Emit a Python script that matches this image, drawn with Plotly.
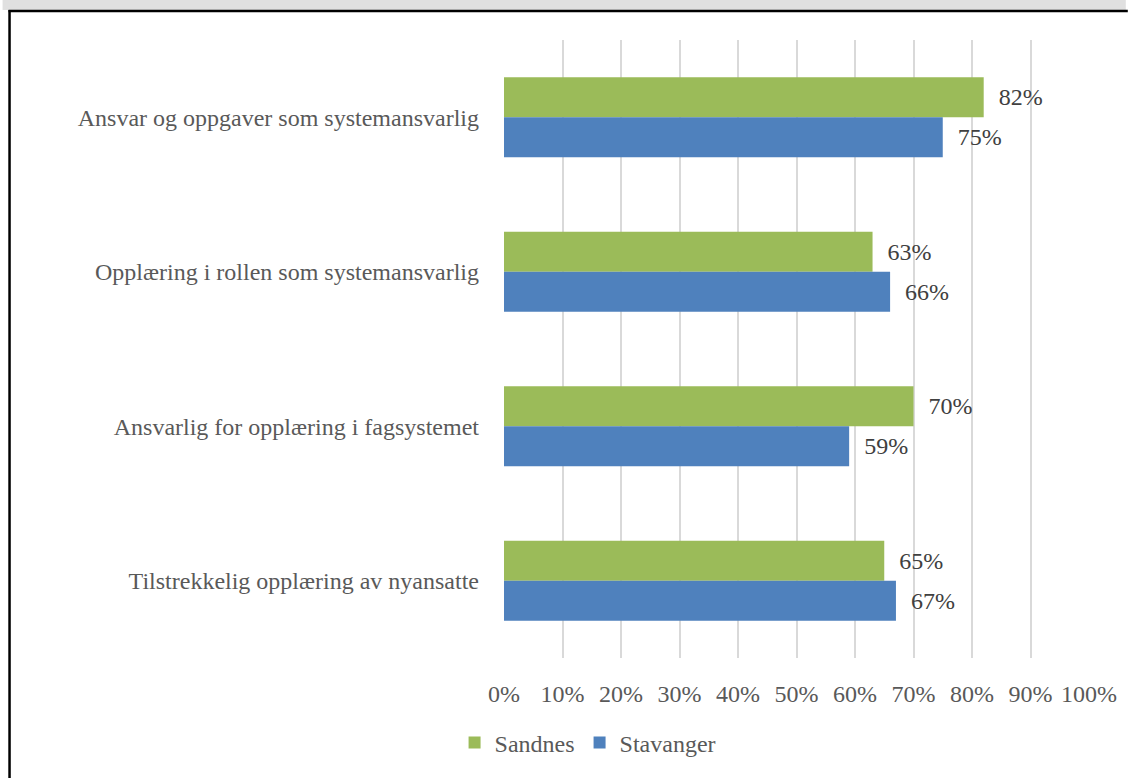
import plotly.graph_objects as go

categories = [
    "Ansvar og oppgaver som systemansvarlig",
    "Opplæring i rollen som systemansvarlig",
    "Ansvarlig for opplæring i fagsystemet",
    "Tilstrekkelig opplæring av nyansatte",
]
sandnes = [82, 63, 70, 65]
stavanger = [75, 66, 59, 67]
tick_vals = [0, 10, 20, 30, 40, 50, 60, 70, 80, 90, 100]
tick_text = [f"{v}%" for v in tick_vals]

W, H = 1129, 778
L, R, T, B = 504, 37, 40, 120
plot_w = W - L - R
plot_h = H - T - B

FONT = "Palatino Linotype, Book Antiqua, Palatino, Liberation Serif, serif"
TXT = "#595959"
SIZE = 24


def px_x(p):
    return (p - L) / plot_w


def px_y(p):
    return (H - B - p) / plot_h


def bar(values, name, color):
    return go.Bar(
        y=categories, x=values, name=name, orientation="h",
        marker=dict(color=color, line=dict(width=0)),
        text=[f"{v}%" for v in values], texttemplate="  %{text}",
        textposition="outside", cliponaxis=False,
        textfont=dict(family=FONT, size=SIZE, color="#404040"),
        hoverinfo="skip",
    )


fig = go.Figure()
fig.add_trace(bar(sandnes, "Sandnes", "#9bbb59"))
fig.add_trace(bar(stavanger, "Stavanger", "#4f81bd"))

shapes = [
    # grey header band
    dict(type="rect", xref="paper", yref="paper",
         x0=px_x(0), x1=px_x(W), y0=px_y(10), y1=px_y(-2),
         fillcolor="#e0e0e0", line=dict(width=0), layer="below"),
    # frame lines
    dict(type="line", xref="paper", yref="paper",
         x0=px_x(6), x1=px_x(W + 2), y0=px_y(11), y1=px_y(11),
         line=dict(color="black", width=2.5)),
    dict(type="line", xref="paper", yref="paper",
         x0=px_x(7), x1=px_x(7), y0=px_y(10), y1=px_y(H + 2),
         line=dict(color="black", width=2.5)),
]

fig.update_layout(
    width=W, height=H,
    margin=dict(l=L, r=R, t=T, b=B, pad=0),
    paper_bgcolor="white", plot_bgcolor="white",
    barmode="group", bargap=0.482, bargroupgap=0,
    font=dict(family=FONT, size=SIZE, color=TXT),
    showlegend=True,
    legend=dict(orientation="h", x=px_x(588), xanchor="center",
                y=px_y(743), yanchor="middle",
                font=dict(family=FONT, size=SIZE, color=TXT),
                traceorder="normal", itemwidth=30),
    shapes=shapes,
    xaxis=dict(range=[0, 100], tickvals=tick_vals, ticktext=tick_text,
               showgrid=True, gridcolor="#d9d9d9", gridwidth=2,
               zeroline=False, showline=False, ticks="",
               ticklabelstandoff=19, fixedrange=True,
               tickfont=dict(family=FONT, size=SIZE, color=TXT)),
    yaxis=dict(autorange="reversed", showgrid=False, zeroline=False,
               showline=False, ticks="", ticklabelstandoff=24,
               tickfont=dict(family=FONT, size=SIZE, color=TXT)),
)

fig.write_html("out.html")
